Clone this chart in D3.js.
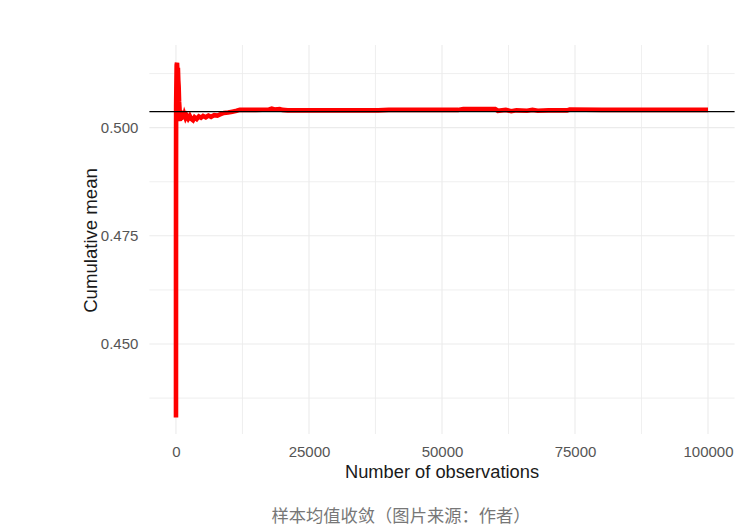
<!DOCTYPE html>
<html><head><meta charset="utf-8">
<script src="https://cdn.jsdelivr.net/npm/d3@7"></script>
<style>
html,body{margin:0;padding:0;background:#fff;}
svg{display:block;}
</style></head>
<body>
<script>
// ---- data ----
const obsN = [1,4,10,30,70,130,200,280,360,430,500,580,660,740,820,900,1000,1100,1250,1400,1600,1800,2000,2300,2600,2900,3200,3500,3900,4300,4700,5100,5600,6100,6600,7200,7800,8400,9000,9800,10600,11400,12000,15000,17500,18000,18500,19500,20000,21000,26000,32000,38000,40000,42000,48000,53000,54000,60000,60500,62000,63000,64000,66000,67000,68000,70000,73500,74000,80000,90000,100000];
const cumMean = [0.4330,0.4700,0.4900,0.5050,0.5090,0.5145,0.5150,0.5125,0.5138,0.5110,0.5095,0.5060,0.5045,0.5015,0.5040,0.5018,0.5035,0.5022,0.5032,0.5020,0.5030,0.5023,0.5028,0.5021,0.5027,0.5020,0.5017,0.5024,0.5020,0.5026,0.5023,0.5027,0.5024,0.5028,0.5025,0.5029,0.5028,0.5031,0.5034,0.5035,0.5037,0.5039,0.5041,0.5041,0.5042,0.5044,0.5042,0.5043,0.5041,0.5040,0.5040,0.5040,0.5040,0.5041,0.5041,0.5041,0.5041,0.5043,0.5043,0.5039,0.5041,0.5038,0.5040,0.5039,0.5041,0.5039,0.5040,0.5040,0.5042,0.5041,0.5041,0.5041];
const refMean = 0.5037;
const xTicks = [0,25000,50000,75000,100000];
const xMinor = [12500,37500,62500,87500];
const yTicks = [0.450,0.475,0.500];
const yMinor = [0.4375,0.4625,0.4875,0.5125];
const xTitle = "Number of observations";
const yTitle = "Cumulative mean";
const caption = "样本均值收敛（图片来源：作者）";

// ---- layout ----
const W = 750, H = 528;
const P = {left:149.4, right:734.6, top:45, bottom:434};
const svg = d3.select("body").append("svg").attr("width",W).attr("height",H);

const x = d3.scaleLinear().domain([-4995,104995]).range([P.left,P.right]);
const y = d3.scaleLinear().domain([0.4292,0.5191]).range([P.bottom,P.top]);

const grid = svg.append("g");
grid.selectAll(".ymin").data(yMinor).join("line")
  .attr("x1",P.left).attr("x2",P.right).attr("y1",d=>y(d)).attr("y2",d=>y(d))
  .attr("stroke","#ebebeb").attr("stroke-width",0.8);
grid.selectAll(".xmin").data(xMinor).join("line")
  .attr("y1",P.top).attr("y2",P.bottom).attr("x1",d=>x(d)).attr("x2",d=>x(d))
  .attr("stroke","#ebebeb").attr("stroke-width",0.8);
grid.selectAll(".ymaj").data(yTicks).join("line")
  .attr("x1",P.left).attr("x2",P.right).attr("y1",d=>y(d)).attr("y2",d=>y(d))
  .attr("stroke","#ebebeb").attr("stroke-width",1.1);
grid.selectAll(".xmaj").data(xTicks).join("line")
  .attr("y1",P.top).attr("y2",P.bottom).attr("x1",d=>x(d)).attr("x2",d=>x(d))
  .attr("stroke","#ebebeb").attr("stroke-width",1.1);

// series
const pts = obsN.map((n,i)=>({n, v:cumMean[i]}));
const line = d3.line().x(d=>x(d.n)).y(d=>y(d.v));
svg.append("path").datum(pts).attr("d",line)
  .attr("fill","none").attr("stroke","#ff0000").attr("stroke-width",4.6)
  .attr("stroke-linejoin","miter");

// reference line
svg.append("line").attr("x1",P.left).attr("x2",P.right)
  .attr("y1",y(refMean)).attr("y2",y(refMean))
  .attr("stroke","#000").attr("stroke-width",1.1);

// axes
const font = "'Liberation Sans', Arial, sans-serif";
const xAxis = svg.append("g").attr("transform",`translate(0,${P.bottom+9})`)
  .call(d3.axisBottom(x).tickValues(xTicks).tickSize(0).tickFormat(d3.format("d")));
xAxis.select(".domain").remove();
xAxis.selectAll("text").attr("fill","#555").attr("font-size","15px").attr("font-family",font).attr("dy","0.71em");

const yAxis = svg.append("g").attr("transform",`translate(${P.left-8},0)`)
  .call(d3.axisLeft(y).tickValues(yTicks).tickSize(0).tickFormat(d3.format(".3f")));
yAxis.select(".domain").remove();
yAxis.selectAll("text").attr("fill","#555").attr("font-size","15px").attr("font-family",font);

svg.append("text").attr("x",(P.left+P.right)/2).attr("y",478)
  .attr("text-anchor","middle").attr("font-family",font).attr("font-size","18.3px").attr("fill","#1a1a1a")
  .text(xTitle);
svg.append("text").attr("transform",`translate(96.5,${(P.top+P.bottom)/2+1}) rotate(-90)`)
  .attr("text-anchor","middle").attr("font-family",font).attr("font-size","18.6px").attr("fill","#1a1a1a")
  .text(yTitle);

svg.append("text").attr("x",401).attr("y",522)
  .attr("text-anchor","middle").attr("font-family","'Noto Sans CJK SC', sans-serif").attr("font-size","17.3px").attr("fill","#777")
  .text(caption);
</script>
</body></html>
